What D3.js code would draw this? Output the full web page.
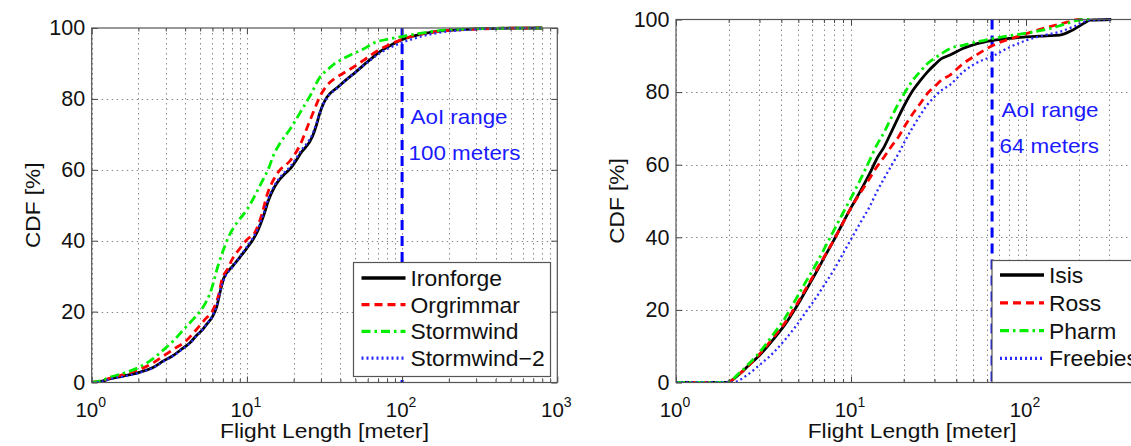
<!DOCTYPE html>
<html>
<head>
<meta charset="utf-8">
<script src="https://cdn.jsdelivr.net/npm/d3@7"></script>
<style>
  body { margin: 0; background: #fff; }
  svg { display: block; }
  text { font-family: "Liberation Sans", Arial, Helvetica, sans-serif; fill: #111; }
</style>
</head>
<body>
<svg id="chart" width="1131" height="446"></svg>
<script>
// ---- Flight length CDFs: [length in meters, cumulative %] ----
// Game worlds
const ironforge = [[1,0],[1.15,0.3],[1.3,1],[1.6,1.8],[2,2.8],[2.5,4.3],[2.9,6.1],[3.4,7.8],[3.8,9.4],[4.3,11.2],[4.7,13.1],[5.2,15],[5.5,16.4],[6.0,18.6],[6.4,21.5],[6.7,25.3],[7.1,29.5],[8.1,32.8],[9,35.3],[10,37.9],[11,40.5],[11.8,43],[12.8,47],[13.8,51.5],[15,55],[15.8,56.6],[17.5,58.8],[19.1,60.4],[22.5,65],[26.4,69.3],[28,72.5],[29.4,75.8],[31,78.5],[32.8,80.5],[38.5,83.3],[45.3,86],[50,87.5],[56,89.4],[65,91.8],[73.6,93.6],[85,95.2],[96,96.4],[115,97.6],[133,98.3],[165,99],[280,99.7],[500,99.95],[800,100]];
const orgrimmar = [[1,0],[1.15,0.4],[1.3,1.2],[1.6,2.2],[2,3.6],[2.5,5.6],[2.9,7.5],[3.4,9.5],[4,11.5],[4.7,14.8],[5.3,17.5],[6.2,21.5],[6.6,25],[6.9,29],[7.5,32],[8.1,35],[9,37.8],[10,40.3],[11.3,42.5],[12.5,47.5],[13.5,53],[14.6,56.6],[16,59.5],[19.1,62.7],[22,67],[25,73],[27.5,77.5],[29.4,80.5],[32.8,83.8],[37,85.8],[42.8,87.5],[50,89.3],[56,90.8],[66,93],[80,95],[100,96.8],[130,98.2],[170,99],[300,99.7],[500,99.95],[800,100]];
const stormwind = [[1,0],[1.15,0.5],[1.3,1.4],[1.6,2.6],[2,4.2],[2.5,6.8],[2.9,9.2],[3.4,12],[4,15.4],[4.5,17.8],[5,20.1],[5.5,23],[5.9,26.2],[6.5,32.8],[7.0,37],[7.7,41.5],[8.7,45.3],[10,48.7],[11.5,53.5],[12.8,57.5],[13.8,60.4],[14.8,64],[16.3,67.4],[19,71.5],[22.5,76.8],[26,81.5],[29.4,86],[33,88.2],[36.6,89.9],[42,91.4],[48,92.7],[56,94],[66,95.8],[80,96.8],[100,97.6],[130,98.5],[170,99.2],[300,99.8],[500,99.95],[800,100]];
const stormwind2 = [[1,0],[1.15,0.2],[1.3,0.9],[1.6,1.7],[2,2.7],[2.5,4.2],[2.9,5.9],[3.4,7.7],[3.8,9.3],[4.3,11.1],[4.7,13.0],[5.2,15],[5.5,16.5],[6.0,18.8],[6.4,21.8],[6.7,25.5],[7.1,29],[8.1,32.6],[9,35.5],[10,38.3],[11,41],[11.8,43.5],[12.8,47.6],[13.8,52],[15,55.5],[15.8,57],[17.5,59.3],[19.1,61],[22.5,65.6],[26.4,70],[28,73],[29.4,76],[31,78.5],[32.8,80.3],[38.5,83.2],[45.3,86],[50,87.5],[56,89.3],[65,91.5],[73.6,93.2],[85,94.6],[96,95.6],[115,96.8],[133,97.6],[165,98.5],[280,99.6],[500,99.95],[800,100]];

// Second-life islands
const isis = [[1,0],[1.5,0],[1.95,0],[2.3,2.3],[2.59,4.6],[3.0,7.5],[3.6,11.9],[4.2,16],[4.77,20.1],[5.5,25.2],[6.3,30.2],[7.1,34.8],[8.0,39.3],[9.0,44],[10.1,48.5],[11.4,53],[12.8,57.6],[14,61.5],[15.5,65],[17,69],[18.7,73.2],[20.5,77],[22.6,80.5],[25,83.3],[27.3,85.5],[30,87.5],[32.9,89.2],[36.8,90.2],[43.6,92],[52,93.3],[63.6,94.2],[80,94.8],[100,95.2],[130,95.5],[156,95.7],[180,96.8],[197,97.9],[215,99],[232,99.8],[307,100]];
const ross = [[1,0],[1.5,0],[1.95,0],[2.3,2.3],[2.59,4.6],[3.0,7.8],[3.6,12.4],[4.2,16.5],[4.77,20.6],[5.5,25.7],[6.3,30.6],[7.1,35],[8.0,39.3],[9,44],[10.1,48.5],[11.4,52.5],[12.8,56.3],[14,59.3],[15.5,62.2],[17,65],[18.7,67.7],[20.5,71],[22.6,74.1],[25,77],[27.3,79.6],[30,81.5],[32.9,83.3],[36.8,84.7],[43.6,87.8],[52,90.2],[65,92.9],[88,95.2],[131,97.8],[170,99.2],[200,100],[230,100]];
const pharm = [[1,0],[1.5,0],[1.95,0],[2.3,2.6],[2.59,5],[3.0,8.3],[3.6,13.3],[4.2,17.8],[4.77,22.4],[5.5,27.6],[6.3,32.5],[7.1,37.2],[8.0,42],[9,46.7],[10.1,51.2],[11.4,56.2],[12.8,61.3],[14,65.3],[15.5,69],[17,73],[18.7,76.9],[20.5,80.2],[22.6,83.3],[25,85.8],[27.3,87.8],[30,89.3],[32.9,90.6],[36.8,92],[43.6,92.9],[52,93.8],[63.6,94.7],[80,95.5],[105,96.4],[140,97.6],[171,98.9],[212,100],[230,100]];
const freebies = [[1,0],[1.5,0],[2.1,0],[2.59,2.3],[3.0,4.8],[3.6,8.2],[4.2,11.8],[4.77,15.1],[5.5,19.3],[6.3,23.3],[7.1,27.2],[8.0,31.1],[9,35.5],[10.1,39.8],[11.4,44.3],[12.8,48.5],[14,52.4],[15.5,56.3],[17,59.7],[18.7,63.1],[20.5,66.8],[22.6,70.4],[25,73.8],[27.3,76.5],[30,78.7],[32.9,80.5],[36.8,82],[43.6,85.5],[52,88],[65,90],[80,92.3],[101,94.3],[130,95.8],[156,96.6],[190,98.2],[232,99.8],[313,100]];

const leftNames = ["Ironforge", "Orgrimmar", "Stormwind", "Stormwind\u22122"];
const rightNames = ["Isis", "Ross", "Pharm", "Freebies"];

// Axis ticks and labels
const yTicks = [0, 20, 40, 60, 80, 100];
const xDecades = [1, 10, 100, 1000];
const yLabel = "CDF [%]";
const xLabel = "Flight Length [meter]";

// AoI range markers
const leftAoI = 100;
const rightAoI = 64;
const leftAoIText = ["AoI range", "100 meters"];
const rightAoIText = ["AoI range", "64 meters"];

// ---- drawing ----
const svg = d3.select("#chart");
svg.append("rect").attr("width", 1131).attr("height", 446).attr("fill", "#fff");

const styles = [
  { stroke: "#000000", width: 2.8, dash: null },
  { stroke: "#ff0000", width: 2.8, dash: "8,5" },
  { stroke: "#00ee00", width: 2.8, dash: "9,4,2.5,4" },
  { stroke: "#2a2aff", width: 2.3, dash: "2,3" }
];

function stretchedText(g, x, y, str, size, sx, anchor, color, rotate) {
  const t = g.append("text")
    .attr("transform", `translate(${x},${y})` + (rotate ? ` rotate(${rotate})` : "") + ` scale(${sx},1)`)
    .attr("font-size", size)
    .attr("text-anchor", anchor || "start")
    .text(str);
  if (color) t.style("fill", color);
  return t;
}

function minorTicks(max) {
  const out = [];
  for (let d = 1; d < max; d *= 10)
    for (let m = 2; m <= 9; m++) if (d * m <= max) out.push(d * m);
  return out;
}

function panel(cfg) {
  const { left, right, top, bottom, xMax, series, names, aoi, aoiText, legend, ylabX, aoiTextX, aoiBase } = cfg;
  const g = svg.append("g");
  const x = d3.scaleLog().domain([1, xMax]).range([left, right]);
  const y = d3.scaleLinear().domain([0, 100]).range([bottom, top]);
  const majors = xDecades.filter(d => d <= xMax);
  const minors = minorTicks(xMax);

  const clipId = "clip" + Math.round(left);
  g.append("clipPath").attr("id", clipId)
    .append("rect").attr("x", left).attr("y", top - 2).attr("width", right - left).attr("height", bottom - top + 2);

  // dotted grid
  const grid = g.append("g").attr("stroke", "#8a8a8a").attr("stroke-width", 1)
    .attr("stroke-dasharray", "1.5,3.5");
  grid.selectAll("line.v").data(majors.concat(minors)).join("line")
    .attr("class", "v")
    .attr("x1", d => Math.round(x(d)) + 0.5).attr("x2", d => Math.round(x(d)) + 0.5)
    .attr("y1", top).attr("y2", bottom);
  grid.selectAll("line.h").data(yTicks.slice(1, -1)).join("line")
    .attr("class", "h")
    .attr("x1", left).attr("x2", right)
    .attr("y1", d => Math.round(y(d)) + 0.5).attr("y2", d => Math.round(y(d)) + 0.5);

  // AoI marker line
  g.append("line")
    .attr("x1", x(aoi)).attr("x2", x(aoi)).attr("y1", top).attr("y2", bottom)
    .attr("stroke", "#0000ff").attr("stroke-width", 3).attr("stroke-dasharray", "10,6");

  // curves
  const line = d3.line().x(d => x(d[0])).y(d => y(d[1])).curve(d3.curveMonotoneX);
  const curves = g.append("g").attr("clip-path", `url(#${clipId})`);
  series.forEach((s, i) => {
    curves.append("path").datum(s)
      .attr("d", line)
      .attr("fill", "none")
      .attr("stroke", styles[i].stroke)
      .attr("stroke-width", styles[i].width)
      .attr("stroke-dasharray", styles[i].dash)
      .attr("stroke-linejoin", "round");
  });

  // axes: inward ticks on all four sides
  const axisStyle = sel => {
    sel.select(".domain").remove();
    sel.selectAll(".tick line").attr("stroke", "#444");
  };
  g.append("g").attr("transform", `translate(0,${bottom})`)
    .call(d3.axisBottom(x).tickValues(minors).tickSize(-3.5).tickFormat("")).call(axisStyle);
  g.append("g").attr("transform", `translate(0,${bottom})`)
    .call(d3.axisBottom(x).tickValues(majors).tickSize(-6).tickFormat("")).call(axisStyle);
  g.append("g").attr("transform", `translate(0,${top})`)
    .call(d3.axisTop(x).tickValues(minors).tickSize(-3.5).tickFormat("")).call(axisStyle);
  g.append("g").attr("transform", `translate(0,${top})`)
    .call(d3.axisTop(x).tickValues(majors).tickSize(-6).tickFormat("")).call(axisStyle);
  const yl = g.append("g").attr("transform", `translate(${left},0)`)
    .call(d3.axisLeft(y).tickValues(yTicks).tickSize(-6).tickPadding(6.5));
  axisStyle(yl);
  yl.selectAll("text").attr("font-size", 21.5).attr("font-family", null).style("fill", "#111");
  g.append("g").attr("transform", `translate(${right},0)`)
    .call(d3.axisRight(y).tickValues(yTicks).tickSize(-6).tickFormat("")).call(axisStyle);

  // frame
  g.append("rect").attr("x", left).attr("y", top).attr("width", right - left).attr("height", bottom - top)
    .attr("fill", "none").attr("stroke", "#555").attr("stroke-width", 1.2);

  // x tick labels 10^k
  majors.forEach(d => {
    const t = g.append("text").attr("x", x(d) - 1).attr("y", bottom + 34)
      .attr("text-anchor", "middle").attr("font-size", 20.5);
    t.append("tspan").text("10");
    t.append("tspan").attr("font-size", 14).attr("dy", -10).text(String(Math.round(Math.log10(d))));
  });

  // axis titles
  stretchedText(g, (left + right) / 2, bottom + 55, xLabel, 21, 1.085, "middle");
  stretchedText(g, ylabX, (top + bottom) / 2, yLabel, 21, 1.08, "middle", null, -90);

  // AoI annotation
  stretchedText(g, aoiTextX, aoiBase, aoiText[0], 20, 1.12, "start", "#1a1aff");
  stretchedText(g, aoiTextX - 2, aoiBase + 36, aoiText[1], 20, 1.12, "start", "#1a1aff");

  // legend
  const lg = g.append("g");
  lg.append("rect").attr("x", legend.x).attr("y", legend.y).attr("width", legend.w).attr("height", legend.h)
    .attr("fill", "#fff").attr("stroke", "#555").attr("stroke-width", 1.2);
  names.forEach((n, i) => {
    const cy = legend.y + legend.first + i * legend.step;
    lg.append("line")
      .attr("x1", legend.x + 8).attr("x2", legend.x + 52).attr("y1", cy).attr("y2", cy)
      .attr("stroke", styles[i].stroke).attr("stroke-width", i === 0 ? 3.4 : 3.2)
      .attr("stroke-dasharray", styles[i].dash);
    stretchedText(lg, legend.x + 57, cy + 8, n, 22, 1.04, "start");
  });
}

panel({
  left: 91.7, right: 557.3, top: 28, bottom: 382.5, xMax: 1000,
  series: [ironforge, orgrimmar, stormwind, stormwind2], names: leftNames,
  aoi: leftAoI, aoiText: leftAoIText, aoiTextX: 410.5, aoiBase: 123.5,
  ylabX: 39.5,
  legend: { x: 353.5, y: 262.5, w: 197, h: 114, first: 15.5, step: 26.7 }
});

panel({
  left: 676, right: 1148.3, top: 19.5, bottom: 382.5, xMax: 500,
  series: [isis, ross, pharm, freebies], names: rightNames,
  aoi: rightAoI, aoiText: rightAoIText, aoiTextX: 1001.5, aoiBase: 117,
  ylabX: 624,
  legend: { x: 992, y: 260.5, w: 150, h: 122, first: 14.5, step: 27.8 }
});
</script>
</body>
</html>
